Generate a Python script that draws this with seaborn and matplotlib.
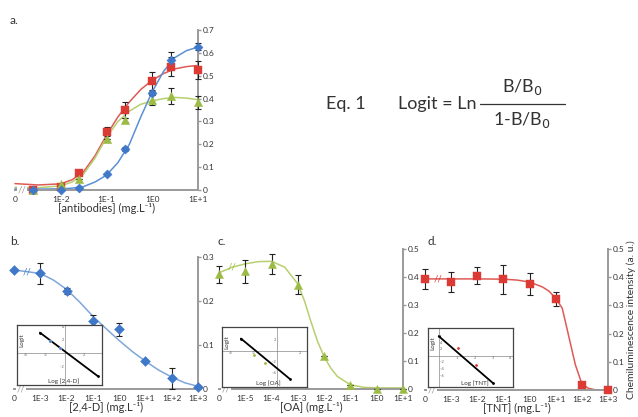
"""Chemiluminescence immunoassay figure: antibody titration and three competitive curves."""

import matplotlib

matplotlib.use("Agg")
import matplotlib.pyplot as plt
import seaborn as sns

# ---- panel a: antibody titration (x = log10 concentration, "0" drawn at -3) ----
a_x = [-2.6, -2.0, -1.6, -1.0, -0.6, 0.0, 0.4, 1.0]
a_blue = [0.0, 0.0, 0.01, 0.07, 0.18, 0.425, 0.57, 0.627]
a_blue_err = [0.0, 0.0, 0.0, 0.0, 0.008, 0.01, 0.035, 0.015]
a_red = [0.0, 0.015, 0.076, 0.255, 0.35, 0.477, 0.54, 0.525]
a_red_err = [0.0, 0.0, 0.0, 0.02, 0.035, 0.04, 0.04, 0.04]
a_green = [0.0, 0.025, 0.05, 0.222, 0.306, 0.394, 0.413, 0.383]
a_green_err = [0.0, 0.0, 0.0, 0.0, 0.01, 0.02, 0.035, 0.03]
a_fit_x = [-3, -2.5, -2, -1.75, -1.5, -1.25, -1, -0.75, -0.5, -0.25, 0, 0.25, 0.5, 0.75, 1]
a_fit_red = [0.028, 0.022, 0.027, 0.045, 0.08, 0.15, 0.24, 0.32, 0.385, 0.44, 0.48, 0.51, 0.53, 0.54, 0.545]
a_fit_green = [0.012, 0.01, 0.018, 0.035, 0.07, 0.14, 0.23, 0.30, 0.345, 0.375, 0.39, 0.40, 0.405, 0.402, 0.395]
a_fit_blue = [0.005, 0.004, 0.005, 0.008, 0.015, 0.035, 0.065, 0.12, 0.2, 0.32, 0.43, 0.52, 0.58, 0.61, 0.625]
a_ticks = [-3, -2, -1, 0, 1]
a_ticklabels = ["0", "1E-2", "1E-1", "1E0", "1E+1"]
a_yticks = [0, 0.1, 0.2, 0.3, 0.4, 0.5, 0.6, 0.7]

# ---- panel b: 2,4-D ("0" drawn at -4) ----
b_x = [-4, -3, -2, -1, 0, 1, 2, 3]
b_y = [0.27, 0.262, 0.222, 0.155, 0.135, 0.064, 0.024, 0.005]
b_err = [0.0, 0.024, 0.006, 0.012, 0.015, 0.0, 0.023, 0.0]
b_fit_x = [-4, -3.5, -3, -2.5, -2, -1.5, -1, -0.5, 0, 0.5, 1, 1.5, 2, 2.5, 3]
b_fit_y = [0.27, 0.266, 0.262, 0.247, 0.226, 0.197, 0.165, 0.137, 0.11, 0.085, 0.063, 0.043, 0.027, 0.014, 0.006]
b_ticklabels = ["0", "1E-3", "1E-2", "1E-1", "1E0", "1E+1", "1E+2", "1E+3"]
b_yticks = [0, 0.1, 0.2, 0.3]
b_in_x = [-2.55, -1.5, -0.55, 3.35]
b_in_y = [3.1, 1.9, 0.75, -3.4]

# ---- panel c: OA ("0" drawn at -6) ----
c_x = [-6, -5, -4, -3, -2, -1, 0, 1]
c_y = [0.409, 0.42, 0.447, 0.373, 0.118, 0.015, 0.0, 0.0]
c_err = [0.03, 0.04, 0.035, 0.035, 0.0, 0.0, 0.0, 0.0]
c_fit_x = [-6, -5.5, -5, -4.5, -4, -3.5, -3, -2.75, -2.5, -2.25, -2, -1.75, -1.5, -1, -0.5, 0, 1]
c_fit_y = [0.415, 0.435, 0.447, 0.455, 0.456, 0.435, 0.375, 0.315, 0.24, 0.17, 0.115, 0.075, 0.045,
           0.015, 0.006, 0.004, 0.004]
c_ticklabels = ["0", "1E-5", "1E-4", "1E-3", "1E-2", "1E-1", "1E0", "1E+1"]
c_yticks = [0, 0.1, 0.2, 0.3, 0.4, 0.5]
c_in_x = [-3.1, -2.0, -1.0, 1.1]
c_in_y = [2.3, -0.6, -2.2, -5.0]

# ---- panel d: TNT ("0" drawn at -4) ----
d_x = [-4, -3, -2, -1, 0, 1, 2, 3]
d_y = [0.394, 0.382, 0.406, 0.392, 0.376, 0.324, 0.019, 0.0]
d_err = [0.035, 0.035, 0.03, 0.05, 0.04, 0.025, 0.0, 0.0]
d_fit_x = [-4, -3, -2, -1, -0.5, 0, 0.5, 0.75, 1, 1.25, 1.5, 1.75, 2, 2.25, 2.5, 3]
d_fit_y = [0.394, 0.394, 0.394, 0.393, 0.39, 0.383, 0.365, 0.35, 0.325, 0.29, 0.19, 0.09, 0.022,
           0.006, 0.001, 0.0]
d_in_x = [0.0, 1.05, 2.07, 3.0]
d_in_y = [6.0, 2.5, -2.7, -8.2]

BLUE, RED, GREEN = "#3f78c8", "#dc3b35", "#9bbb45"
BLUE_L, RED_L, GREEN_L = "#5b8fd6", "#dd5a55", "#b7cf6f"
GREY = "#9a9a9a"
TXT = "#333333"

sns.set_theme(style="white")
plt.rcParams["font.family"] = ["Lato", "DejaVu Sans"]

fig = plt.figure(figsize=(6.38, 4.17), dpi=100)


def style_main(ax, xticks, xticklabels, yticks, xlabel):
    for s in ["top", "left"]:
        ax.spines[s].set_visible(False)
    for s in ["right", "bottom"]:
        ax.spines[s].set_color(GREY)
        ax.spines[s].set_linewidth(1.4)
    ax.yaxis.tick_right()
    ax.set_xticks(xticks)
    ax.set_xticklabels(xticklabels)
    ax.set_yticks(yticks)
    ax.set_yticklabels(["0"] + [f"{v:.1f}" for v in yticks[1:]])
    ax.tick_params(axis="x", labelsize=6, colors=TXT, length=3, width=1, pad=1.5)
    ax.tick_params(axis="y", labelsize=6, colors=TXT, length=2.5, width=1, pad=1)
    ax.tick_params(axis="both", color=GREY)
    ax.set_xlim(xticks[0], xticks[-1])
    ax.set_ylim(yticks[0], yticks[-1])
    ax.set_xlabel(xlabel, fontsize=8, color=TXT, labelpad=-0.5,
                  family=["Lato", "DejaVu Sans"])
    ax.set_ylabel("")
    # axis break mark
    ax.text(0.04, 0.0, "//", transform=ax.transAxes, fontsize=7, color=GREY,
            ha="center", va="center",
            bbox=dict(boxstyle="square,pad=0.05", fc="white", ec="none"))


def draw_series(ax, x, y, err, fx, fy, color, lcolor, marker, msize):
    sns.lineplot(x=fx, y=fy, color=lcolor, linewidth=1.1, ax=ax, clip_on=False,
                 sort=False, estimator=None)
    ax.errorbar(x, y, yerr=err, fmt="none", ecolor="#222222", elinewidth=0.8,
                capsize=2, capthick=0.8, clip_on=False, zorder=3)
    sns.scatterplot(x=x, y=y, color=color, marker=marker, s=msize, edgecolor=color,
                    linewidth=0.3, ax=ax, clip_on=False, zorder=4, legend=False)


def draw_inset(rect, px, py, xlim, ylim, xt, yt, color, xlabel, yha="right"):
    ins = fig.add_axes(rect)
    for s in ins.spines.values():
        s.set_color("#444444")
        s.set_linewidth(0.9)
    ins.axhline(0, color="#888888", linewidth=0.5)
    ins.axvline(0, color="#888888", linewidth=0.5)
    sns.lineplot(x=[px[0], px[-1]], y=[py[0], py[-1]], color="black", linewidth=1.3, ax=ins)
    sns.scatterplot(x=[px[0], px[-1]], y=[py[0], py[-1]], color="black", s=5, ax=ins, legend=False)
    sns.scatterplot(x=px[1:-1], y=py[1:-1], color=color, s=5, ax=ins, legend=False, zorder=3)
    ins.set_xlim(xlim)
    ins.set_ylim(ylim)
    ins.set_xticks([])
    ins.set_yticks([])
    for v in xt:
        ins.text(v, 0, f"{v}", fontsize=2.8, color="#666666", ha="center", va="top")
    for v in yt:
        ins.text(0, v, f" {v} ", fontsize=2.8, color="#666666", ha=yha, va="center")
    ins.text(0.55, 0.02, xlabel, transform=ins.transAxes, fontsize=4.5, color="#333333",
             ha="center", va="bottom")
    ins.text(0.055, 0.75, "Logit", transform=ins.transAxes, fontsize=4.5, color="#333333",
             ha="center", va="center", rotation=90)
    ins.set_facecolor("white")
    return ins


# ---- panel a ----
ax_a = fig.add_axes([15 / 638, 1 - 190 / 417, 183 / 638, 160 / 417])
draw_series(ax_a, a_x, a_red, a_red_err, a_fit_x, a_fit_red, RED, RED_L, "s", 38)
draw_series(ax_a, a_x, a_green, a_green_err, a_fit_x, a_fit_green, GREEN, GREEN_L, "^", 36)
draw_series(ax_a, a_x, a_blue, a_blue_err, a_fit_x, a_fit_blue, BLUE, BLUE_L, "D", 22)
style_main(ax_a, a_ticks, a_ticklabels, a_yticks, "[antibodies] (mg.L⁻¹)")

# ---- panel b ----
ax_b = fig.add_axes([14 / 638, 1 - 389 / 417, 184 / 638, 132.3 / 417])
draw_series(ax_b, b_x, b_y, b_err, b_fit_x, b_fit_y, BLUE, "#7fa6da", "D", 26)
style_main(ax_b, list(range(-4, 4)), b_ticklabels, b_yticks, "[2,4-D] (mg.L⁻¹)")
ax_b.text(-3.5, 0.266, "//", fontsize=7, color=BLUE, ha="center", va="center")

# ---- panel c ----
ax_c = fig.add_axes([219 / 638, 1 - 389 / 417, 184 / 638, 140 / 417])
draw_series(ax_c, c_x, c_y, c_err, c_fit_x, c_fit_y, GREEN, GREEN_L, "^", 34)
style_main(ax_c, list(range(-6, 2)), c_ticklabels, c_yticks, "[OA] (mg.L⁻¹)")
ax_c.text(-5.5, 0.435, "//", fontsize=7, color=GREEN, ha="center", va="center")

# ---- panel d ----
ax_d = fig.add_axes([425 / 638, 1 - 390 / 417, 183 / 638, 141 / 417])
draw_series(ax_d, d_x, d_y, d_err, d_fit_x, d_fit_y, RED, RED_L, "s", 38)
style_main(ax_d, list(range(-4, 4)), b_ticklabels, c_yticks, "[TNT] (mg.L⁻¹)")
ax_d.text(-3.5, 0.394, "//", fontsize=7, color=RED, ha="center", va="center")
ax_d.text(1.128, 0.5, "Chemiluminescence intensity (a. u.)", transform=ax_d.transAxes,
          rotation=90, fontsize=7.5, color=TXT, ha="center", va="center")

# ---- insets ----
draw_inset([17 / 638, 1 - 385 / 417, 85 / 638, 60 / 417], b_in_x, b_in_y,
           (-4.9, 3.8), (-4.75, 4.25), [-4, -2, 2], [4, 2, -2], BLUE, "Log [2,4-D]")
draw_inset([222 / 638, 1 - 387 / 417, 85 / 638, 60 / 417], c_in_x, c_in_y,
           (-4.73, 2.6), (-6.5, 4.4), [-4, -2, 2], [2, -2, -4], GREEN, "Log [OA]")
draw_inset([428 / 638, 1 - 387 / 417, 85 / 638, 59 / 417], d_in_x, d_in_y,
           (-0.6, 4.14), (-9.5, 8.5), [1, 2, 3, 4], [4, 2, -2, -4, -6], RED, "Log [TNT]",
           yha="left")

# ---- panel letters ----
for x, y, s in [(10, 20, "a."), (10, 242, "b."), (218, 242, "c."), (427, 242, "d.")]:
    fig.text(x / 638, 1 - y / 417, s, fontsize=8.5, color=TXT, ha="left", va="center")

# ---- equation ----
fig.text(326 / 638, 1 - 104 / 417, "Eq. 1", fontsize=13, color=TXT, ha="left", va="center")
fig.text(398 / 638, 1 - 104 / 417, "Logit = Ln", fontsize=13, color=TXT, ha="left", va="center")
fig.text(522 / 638, 1 - 87 / 417, "B/B$_0$", fontsize=13, color=TXT, ha="center", va="center")
fig.text(522 / 638, 1 - 120 / 417, "1-B/B$_0$", fontsize=13, color=TXT, ha="center", va="center")
fig.add_artist(plt.Line2D([480 / 638, 565 / 638], [1 - 104 / 417, 1 - 104 / 417],
                          color=TXT, linewidth=0.9))

fig.savefig("out.png", dpi=100)
